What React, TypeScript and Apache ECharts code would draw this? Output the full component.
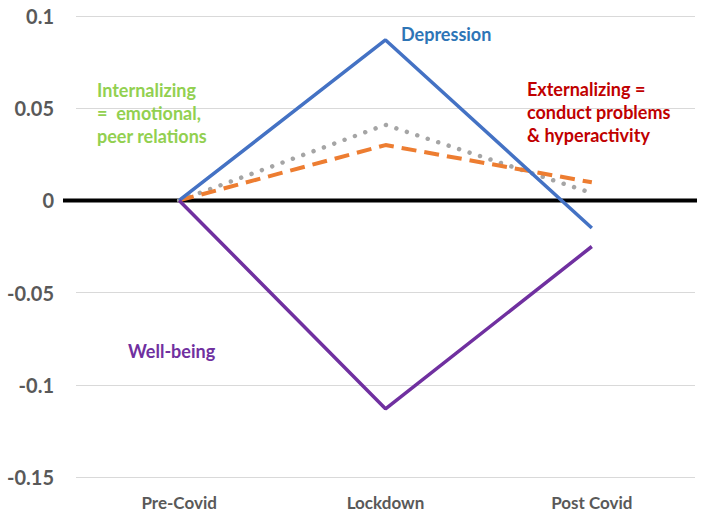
import React, { useEffect, useRef } from "react";
import * as echarts from "echarts";

const categories = ["Pre-Covid", "Lockdown", "Post Covid"];
const depression = [0, 0.087, -0.015];
const wellBeing = [0, -0.113, -0.025];
const internalizing = [0, 0.041, 0.004];
const externalizing = [0, 0.030, 0.0098];
const yTicks = { min: -0.15, max: 0.1, interval: 0.05 };

const FONT = "Lato";

export default function App() {
  const ref = useRef<HTMLDivElement>(null);
  useEffect(() => {
    const chart = echarts.init(ref.current!, null, { renderer: "svg" });
    const option: any = {
      animation: false,
      grid: { left: 76, right: 9, top: 16, bottom: 47 },
      xAxis: {
        type: "category",
        data: categories,
        boundaryGap: true,
        axisLine: { show: false },
        axisTick: { show: false },
        axisLabel: {
          margin: 17,
          fontFamily: FONT,
          fontWeight: "bold",
          fontSize: 17,
          color: "#595959",
        },
      },
      yAxis: {
        type: "value",
        min: yTicks.min,
        max: yTicks.max,
        interval: yTicks.interval,
        axisLine: { show: false },
        axisTick: { show: false },
        splitLine: { lineStyle: { color: "#D9D9D9", width: 1 } },
        axisLabel: {
          margin: 22,
          fontFamily: FONT,
          fontWeight: "bold",
          fontSize: 20,
          color: "#595959",
          formatter: (v: number) => String(parseFloat(v.toFixed(2))),
        },
      },
      series: [
        {
          name: "Internalizing",
          type: "line",
          data: internalizing,
          showSymbol: false,
          symbol: "none",
          lineStyle: { color: "#A5A5A5", width: 4.5, type: [0.01, 11], cap: "round" },
          z: 2,
        },
        {
          name: "Externalizing",
          type: "line",
          data: externalizing,
          showSymbol: false,
          symbol: "none",
          lineStyle: { color: "#ED7D31", width: 4, type: [15, 8], cap: "butt" },
          z: 3,
        },
        {
          name: "Depression",
          type: "line",
          data: depression,
          showSymbol: false,
          symbol: "none",
          lineStyle: { color: "#4472C4", width: 3.5 },
          z: 4,
        },
        {
          name: "Well-being",
          type: "line",
          data: wellBeing,
          showSymbol: false,
          symbol: "none",
          lineStyle: { color: "#7030A0", width: 3.5 },
          z: 4,
        },
      ],
    };
    chart.setOption(option);
    const zeroY = chart.convertToPixel({ yAxisIndex: 0 }, 0) as number;
    const txt = (x: number, y: number, text: string, color: string) => ({
      type: "text",
      left: x,
      top: y,
      z: 10,
      style: {
        text,
        fill: color,
        font: `bold 18px ${FONT}`,
        lineHeight: 23,
      },
    });
    chart.setOption({
      graphic: [
        {
          type: "line",
          shape: { x1: 63, y1: zeroY, x2: 697, y2: zeroY },
          style: { stroke: "#000000", lineWidth: 4 },
          z: 1,
        },
        txt(401, 22, "Depression", "#2E75B6"),
        txt(97, 78, "Internalizing\n=  emotional,\npeer relations", "#92D050"),
        txt(527, 77, "Externalizing =\nconduct problems\n& hyperactivity", "#C00000"),
        txt(128, 339, "Well-being", "#7030A0"),
      ],
    });
    return () => chart.dispose();
  }, []);
  return (
    <div
      ref={ref}
      style={{ position: "fixed", left: 0, top: 0, width: 704, height: 524, background: "#fff" }}
    />
  );
}
